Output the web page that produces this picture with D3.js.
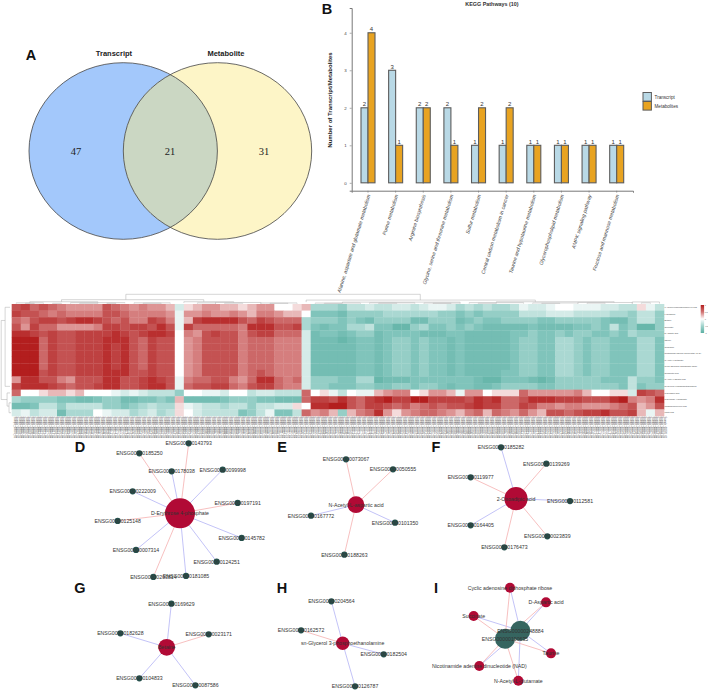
<!DOCTYPE html>
<html>
<head>
<meta charset="utf-8">
<script src="https://cdn.jsdelivr.net/npm/d3@7"></script>
<style>
  html, body { margin: 0; padding: 0; background: #fff; }
  text { font-family: "Liberation Sans", Arial, sans-serif; }
</style>
</head>
<body>
<div id="canvas"></div>
<script>
// A: venn counts
var vennNames = ["Transcript", "Metabolite"];
var vennCounts = [47, 21, 31];

// B: KEGG pathways
var pathways = [
    "Alanine, aspartate and glutamate metabolism", "Purine metabolism", "Arginine biosynthesis",
    "Glycine, serine and threonine metabolism", "Sulfur metabolism", "Central carbon metabolism in cancer",
    "Taurine and hypotaurine metabolism", "Glycerophospholipid metabolism", "AMPK signaling pathway",
    "Fructose and mannose metabolism"
];
var barSeries = ["Transcript", "Metabolites"];
var transcriptCounts = [2, 3, 2, 2, 1, 1, 1, 1, 1, 1];
var metaboliteCounts = [4, 1, 2, 1, 2, 2, 1, 1, 1, 1];

// C: heatmap, one array per metabolite, -9..9
var heatRowNames = [
    "1-Aminocyclopropanecarboxylic acid", "L-Glutamine", "Betaine", "Succinate", "D-Aspartic acid",
    "Taurine", "Guanosine", "Nicotinamide adenine dinucleotide (NAD)", "N-Acetyl-L-glutamate",
    "Cyclic adenosine diphosphate ribose", "Sulfoacetic acid", "N-Acetyl-L-aspartic acid",
    "sn-Glycerol 3-phosphoethanolamine", "2-Oxoadipic acid", "D-Erythrose 4-phosphate",
    "Phosphoenolpyruvic acid", "Lactic acid"
];
var heatValues = [
    [6,7,5,6,5,4,3,3,3,3,6,5,4,3,4,3,3,2,-2,1,2,3,3,2,2,1,2,3,3,0,0,1, 2,-4,-4,-4,-5,-3,-3,-2,-3,-3,-2,-2,-3,-2,-1,-1,-2,-4,-3,-4,-3,-4,-4,-3,-1,-2,-2,-1,0,0,-1,-1,-1,-2,-2,-3,-3,1,-1,-3],
    [7,6,6,5,4,5,4,4,4,4,6,6,5,4,4,4,4,3,-1,3,3,4,3,3,4,3,2,4,4,3,2,2, 0,-6,-6,-6,-7,-5,-5,-5,-5,-4,-4,-4,-4,-4,-4,-5,-5,-6,-5,-6,-5,-5,-5,-5,-3,-3,-3,-2,-2,-2,-3,-3,-3,-3,-4,-4,-5,-3,-3,-5],
    [5,4,6,7,7,6,7,8,8,7,6,5,6,4,4,7,6,4,-1,2,7,8,8,8,8,6,5,7,6,5,5,5, -4,-5,-5,-5,-6,-5,-6,-7,-5,-5,-5,-5,-7,-7,-5,-5,-5,-7,-6,-5,-6,-6,-5,-5,-5,-5,-6,-6,-5,-5,-5,-5,-5,-6,-7,-7,-5,-3,-3,-5],
    [6,3,7,5,5,3,3,3,3,4,7,7,6,7,7,6,8,6,-1,7,5,5,5,5,5,4,8,8,8,6,6,7, -4,-6,-7,-6,-6,-4,-4,-3,-6,-6,-8,-8,-5,-4,-6,-6,-5,-6,-5,-6,-7,-7,-7,-7,-7,-6,-7,-7,-7,-7,-6,-6,-5,-6,-3,-6,-5,-8,-8,-5],
    [8,8,7,6,7,6,6,7,7,7,7,8,7,6,7,8,8,7,0,4,3,6,7,6,6,4,6,7,7,5,5,5, -2,-7,-6,-6,-7,-6,-5,-5,-7,-6,-6,-6,-6,-7,-7,-7,-6,-6,-7,-7,-7,-7,-7,-6,-6,-5,-6,-6,-5,-6,-5,-5,-6,-6,-5,-6,-4,-5,-5,-5],
    [9,9,9,5,7,6,6,7,7,7,8,8,8,6,5,7,6,6,0,3,4,6,6,6,6,4,5,5,5,4,4,4, -2,-7,-7,-7,-8,-7,-6,-6,-7,-6,-5,-5,-6,-5,-6,-6,-7,-6,-7,-7,-7,-7,-7,-6,-5,-5,-6,-6,-4,-4,-5,-6,-5,-5,-6,-6,-6,-4,-4,-6],
    [9,9,9,5,7,6,6,7,7,7,8,7,8,6,5,7,6,6,0,3,4,6,6,6,6,4,5,5,5,4,4,4, -2,-7,-7,-7,-7,-7,-6,-6,-7,-6,-5,-5,-6,-5,-6,-6,-7,-6,-7,-7,-7,-7,-7,-6,-5,-5,-6,-6,-4,-4,-5,-6,-5,-5,-6,-6,-6,-4,-4,-6],
    [9,9,9,5,7,6,6,7,7,7,8,7,8,6,5,7,6,6,0,3,4,6,6,6,6,4,5,5,5,4,4,4, -2,-7,-7,-7,-7,-7,-6,-6,-7,-6,-5,-5,-6,-5,-6,-6,-7,-6,-7,-7,-7,-7,-7,-6,-5,-5,-6,-6,-4,-4,-5,-6,-5,-5,-6,-6,-6,-4,-4,-6],
    [9,9,9,5,7,6,6,7,7,7,8,7,8,6,5,7,6,6,0,3,4,6,6,6,6,4,5,5,5,4,4,4, -2,-7,-7,-7,-7,-7,-6,-6,-7,-6,-5,-5,-6,-5,-6,-6,-7,-6,-7,-7,-7,-7,-7,-6,-5,-5,-6,-6,-4,-4,-5,-6,-5,-5,-6,-6,-6,-4,-4,-6],
    [9,9,9,5,7,6,6,7,7,7,8,7,8,6,5,7,6,6,0,3,4,6,6,6,6,4,5,5,5,4,4,4, -2,-7,-7,-7,-7,-7,-6,-6,-7,-6,-5,-5,-6,-5,-6,-6,-7,-6,-7,-7,-7,-7,-7,-6,-5,-5,-6,-6,-4,-4,-5,-6,-5,-5,-6,-6,-6,-4,-4,-6],
    [9,9,9,6,7,6,6,7,7,7,8,8,8,6,6,7,6,6,0,3,4,6,6,6,6,4,5,6,5,4,4,4, -2,-7,-7,-7,-7,-7,-6,-6,-7,-6,-5,-5,-6,-5,-6,-6,-7,-6,-7,-7,-7,-7,-6,-6,-5,-5,-6,-6,-4,-4,-5,-6,-5,-5,-6,-6,-6,-4,-4,-6],
    [3,8,8,6,6,4,3,6,6,6,8,8,6,6,7,8,7,6,-1,4,5,5,6,6,4,3,5,8,8,5,4,5, -2,-5,-5,-5,-6,-6,-4,-4,-8,-7,-7,-7,-6,-6,-6,-6,-6,-6,-6,-7,-8,-8,-6,-6,-6,-7,-8,-7,-5,-5,-5,-5,-5,-6,-6,-6,-3,-5,-5,-6],
    [7,8,8,8,7,6,5,6,6,7,8,8,6,6,7,8,8,6,-1,5,6,6,7,7,5,4,6,7,7,5,4,4, -2,-5,-5,-6,-6,-6,-5,-5,-6,-6,-5,-5,-6,-5,-5,-6,-7,-6,-6,-7,-7,-6,-5,-5,-5,-5,-6,-6,-5,-5,-5,-5,-5,-5,-5,-6,-3,-6,-5,-5],
    [5,0,0,1,2,2,1,2,0,0,0,-1,-2,-1,-2,-3,-3,-3,-5,0,0,-1,-1,-2,0,0,-3,-2,-2,-3,-3,-3, 5,0,1,-1,-3,0,-1,-1,2,3,4,4,0,1,3,3,2,-1,3,3,0,1,1,1,5,3,3,3,3,3,4,2,0,0,1,1,-2,7,6,5],
    [-4,-5,-5,-5,-5,-6,-6,-7,-7,-6,-5,-5,-7,-7,-6,-6,-5,-6,2,-7,-7,-7,-7,-6,-5,-5,-5,-6,-6,-7,-7,-7, 5,7,7,6,8,6,5,7,8,9,7,7,9,9,7,7,7,7,6,8,7,8,5,5,6,8,8,8,7,7,7,6,6,6,8,9,4,3,4,8],
    [-7,-7,-6,-3,-3,-5,-3,-3,-3,-3,-5,-5,-6,-5,-4,-3,-4,-4,1,-1,-2,-3,-3,-4,-3,-3,-5,-3,-3,-2,-2,1, 0,8,8,9,9,6,5,7,7,6,5,6,4,5,6,5,6,6,7,8,7,7,5,5,7,6,4,4,3,4,4,3,3,3,4,5,6,2,3,6],
    [-2,-1,-3,-2,-2,-7,-4,-4,-4,0,-1,-2,-2,-4,-3,-2,-4,-3,1,0,-2,-3,-3,-3,-3,-6,-5,-3,-1,-6,-6,-3, 5,3,4,2,-5,2,4,5,8,3,1,3,4,5,5,4,3,2,4,5,2,5,4,3,5,3,2,6,6,5,6,7,7,8,6,6,7,2,-1,2]
];
var legendTicks = [1, 0.5, 0, -0.5, -1];

// dendrograms: [left, right, height, left child height, right child height]
var colMerges = [
    [12.1, 44.6, 1, 0.42, 0.38], [5, 20.7, 0.42, 0.2, 0.2], [32, 57.3, 0.38, 0.16, 0.2],
    [1.5, 9, 0.2, 0.08, 0.1], [18.5, 24, 0.2, 0.08, 0.12], [36, 49, 0.16, 0.06, 0.08], [53, 66, 0.2, 0.1, 0.12],
    [0, 3, 0.08, 0, 0], [6, 12, 0.1, 0, 0.04], [13, 17, 0.08, 0, 0], [20, 22, 0.08, 0, 0], [22, 27, 0.12, 0, 0],
    [27, 31, 0.07, 0, 0], [33, 38, 0.06, 0, 0], [39, 44, 0.08, 0, 0], [45, 49, 0.06, 0, 0], [50, 56, 0.1, 0, 0],
    [57, 62, 0.07, 0, 0], [62, 68, 0.12, 0, 0], [68, 71, 0.18, 0, 0],
    [1, 2, 0.03, 0, 0], [4, 5, 0.03, 0, 0], [7, 9, 0.04, 0, 0], [10, 11, 0.03, 0, 0], [14, 16, 0.04, 0, 0],
    [23, 25, 0.04, 0, 0], [28, 30, 0.03, 0, 0], [34, 36, 0.03, 0, 0], [40, 42, 0.04, 0, 0], [46, 48, 0.03, 0, 0],
    [51, 53, 0.04, 0, 0], [58, 60, 0.03, 0, 0], [63, 65, 0.05, 0, 0], [69, 70, 0.08, 0, 0]
];
var rowMerges = [
    [2.5, 14.5, 1, 0.6, 0.4], [0.5, 12.5, 0.6, 0.1, 0.1], [13.5, 15.5, 0.4, 0.1, 0.2], [15, 16.5, 0.2, 0, 0]
];

// D-I: networks, [name, edge type, layout x, layout y] measured from the hub
var netD = [
    ["ENSG00000143793", 0, 26, -210], ["ENSG00000185250", 0, -122, -180], ["ENSG00000178038", 1, -25, -126],
    ["ENSG00000099998", 1, 128, -131], ["ENSG00000222009", 1, -142, -66], ["ENSG00000197191", 0, 173, -31],
    ["ENSG00000125148", 0, -187, 23], ["ENSG00000145782", 1, 185, 74], ["ENSG00000007314", 1, -132, 110],
    ["ENSG00000124251", 1, 110, 145], ["ENSG00000203814", 0, -80, 191], ["ENSG00000181085", 1, 18, 188]
];
var netE = [
    ["ENSG00000073067", 0, -30, -136], ["ENSG00000050555", 0, 111, -106], ["ENSG00000167772", 1, -135, 33],
    ["ENSG00000101350", 1, 117, 54], ["ENSG00000188263", 0, -35, 150]
];
var netF = [
    ["ENSG00000185282", 1, -45, -154], ["ENSG00000139269", 0, 91, -105], ["ENSG00000119977", 0, -136, -64],
    ["ENSG00000112581", 1, 162, 7], ["ENSG00000164405", 1, -136, 80], ["ENSG00000023839", 0, 94, 113],
    ["ENSG00000176473", 0, -35, 146]
];
var netG = [
    ["ENSG00000169629", 1, 14, -131], ["ENSG00000182628", 1, -139, -42], ["ENSG00000023171", 0, 126, -39],
    ["ENSG00000104833", 1, -82, 93], ["ENSG00000087586", 1, 86, 114]
];
var netH = [
    ["ENSG00000204564", 1, -34, -126], ["ENSG00000162572", 0, -125, -39], ["ENSG00000182504", 1, 123, 33],
    ["ENSG00000126787", 1, 37, 129]
];
var netIHubs = [["ENSG00000248884", 46, -24], ["ENSG00000190635", 0, 0]];
var netI = [
    ["Cyclic adenosine diphosphate ribose", 15, -153], ["D-Aspartic acid", 123, -109], ["Succinate", -94, -68],
    ["Taurine", 138, 44], ["Nicotinamide adenine dinucleotide (NAD)", -77, 82], ["N-Acetyl-L-glutamate", 40, 126]
];

var svg = d3.select("#canvas").append("svg")
    .attr("width", 708)
    .attr("height", 691)
    .style("display", "block");

var letters = [["A", 31, 60], ["B", 327, 14], ["D", 80, 452], ["E", 282, 452], ["F", 436, 452], ["G", 80, 593], ["H", 282, 593], ["I", 436, 593]];
letters.forEach(function (d) {
    svg.append("text").attr("x", d[1]).attr("y", d[2]).attr("text-anchor", "middle")
        .style("font-size", "14.5px").style("font-weight", "bold").style("fill", "#111").text(d[0]);
});

// ---- A venn
var venn = svg.append("g");
var vennY = 151, vennRx = 94.2, vennRy = 88.3, vennX = [123.2, 217.5];
svg.append("clipPath").attr("id", "vennClip").append("ellipse")
    .attr("cx", vennX[1]).attr("cy", vennY).attr("rx", vennRx).attr("ry", vennRy);
venn.append("ellipse").attr("cx", vennX[0]).attr("cy", vennY).attr("rx", vennRx).attr("ry", vennRy).attr("fill", "#a3c8fb");
venn.append("ellipse").attr("cx", vennX[1]).attr("cy", vennY).attr("rx", vennRx).attr("ry", vennRy).attr("fill", "#fdf5c7");
venn.append("ellipse").attr("cx", vennX[0]).attr("cy", vennY).attr("rx", vennRx).attr("ry", vennRy)
    .attr("fill", "#cbd7c3").attr("clip-path", "url(#vennClip)");
vennX.forEach(function (cx) {
    venn.append("ellipse").attr("cx", cx).attr("cy", vennY).attr("rx", vennRx).attr("ry", vennRy)
        .attr("fill", "none").attr("stroke", "#444").attr("stroke-width", 0.8);
});
var vennTextX = [76, 170, 264];
vennCounts.forEach(function (d, i) {
    venn.append("text").attr("x", vennTextX[i]).attr("y", 155).attr("text-anchor", "middle")
        .style("font-family", "'Liberation Serif', serif").style("font-size", "10.5px").style("fill", "#222").text(d);
});
[114, 226].forEach(function (x, i) {
    venn.append("text").attr("x", x).attr("y", 56).attr("text-anchor", "middle")
        .style("font-size", "7.5px").style("font-weight", "bold").style("fill", "#222").text(vennNames[i]);
});

// ---- B bars
var bars = svg.append("g");
var x0 = d3.scaleBand().domain(pathways).range([351.7, 633]).paddingInner(0).paddingOuter(0.09);
var x1 = d3.scaleBand().domain(barSeries).range([x0.bandwidth() / 2 - 7, x0.bandwidth() / 2 + 7]);
var y = d3.scaleLinear().domain([-0.21, 4.66]).range([190.7, 8]);
var barColor = d3.scaleOrdinal().domain(barSeries).range(["#b9d9e6", "#e8a321"]);

var barData = [];
pathways.forEach(function (p, i) {
    barData.push({ pathway: p, series: barSeries[0], value: transcriptCounts[i] });
    barData.push({ pathway: p, series: barSeries[1], value: metaboliteCounts[i] });
});
bars.selectAll("rect").data(barData).enter().append("rect")
    .attr("x", function (d) { return x0(d.pathway) + x1(d.series); })
    .attr("y", function (d) { return y(d.value); })
    .attr("width", x1.bandwidth())
    .attr("height", function (d) { return y(0) - y(d.value); })
    .attr("fill", function (d) { return barColor(d.series); })
    .attr("stroke", "#5c5c5c")
    .attr("stroke-width", 1.1);
bars.selectAll(".val").data(barData).enter().append("text")
    .attr("class", "val")
    .attr("x", function (d) { return x0(d.pathway) + x1(d.series) + x1.bandwidth() / 2; })
    .attr("y", function (d) { return y(d.value) - 1.5; })
    .attr("text-anchor", "middle")
    .style("font-size", "6px").style("fill", "#333")
    .text(function (d) { return d.value; });

var yAxis = bars.append("g").attr("transform", "translate(351.7,0)")
    .call(d3.axisLeft(y).tickValues([0, 1, 2, 3, 4]).tickSize(2).tickFormat(d3.format("d")));
var xAxis = bars.append("g").attr("transform", "translate(0,190.7)")
    .call(d3.axisBottom(x0).tickSize(2));
[yAxis, xAxis].forEach(function (a) {
    a.selectAll(".domain").attr("stroke", "#777").attr("stroke-width", 1);
    a.selectAll(".tick line").attr("stroke", "#777").attr("stroke-width", 0.6);
});
yAxis.selectAll("text").style("font-size", "4.4px").style("font-family", "'Liberation Sans'").style("fill", "#444");
xAxis.selectAll("text")
    .attr("text-anchor", "end")
    .attr("dx", 0).attr("dy", 0).attr("y", 0)
    .attr("transform", "translate(2.5,4.5) rotate(-73)")
    .style("font-size", "5.1px").style("font-style", "italic").style("font-family", "'Liberation Sans'").style("fill", "#444");

svg.append("text").attr("x", 492).attr("y", 5.5).attr("text-anchor", "middle")
    .style("font-size", "5.4px").style("font-weight", "bold").style("fill", "#333").text("KEGG Pathways (10)");
svg.append("text").attr("transform", "translate(332.3,100) rotate(-90)").attr("text-anchor", "middle")
    .style("font-size", "6px").style("font-weight", "bold").style("fill", "#222").text("Number of Transcript/Metabolites");

barSeries.forEach(function (s, i) {
    svg.append("rect").attr("x", 643).attr("y", 92.5 + i * 9).attr("width", 8.4).attr("height", 8.6)
        .attr("fill", barColor(s)).attr("stroke", "#5c5c5c").attr("stroke-width", 1);
    svg.append("text").attr("x", 654.5).attr("y", 98.8 + i * 9)
        .style("font-size", "4.6px").style("fill", "#333").text(s);
});

// ---- C heatmap
var heat = svg.append("g");
var colIndex = d3.range(heatValues[0].length);
var heatX = d3.scaleBand().domain(colIndex).range([11.7, 664]);
var heatY = d3.scaleBand().domain(heatRowNames).range([304, 416]);
var heatColor = d3.scaleLinear().domain([-9, -6, 0, 3, 6, 9])
    .range(["#5cb0a3", "#80c4bb", "#ffffff", "#dd9494", "#c45252", "#b31e1e"]);

heatValues.forEach(function (row, r) {
    heat.append("g").selectAll("rect").data(row).enter().append("rect")
        .attr("x", function (d, i) { return heatX(i); })
        .attr("y", heatY(heatRowNames[r]))
        .attr("width", heatX.bandwidth() + 0.3)
        .attr("height", heatY.bandwidth() + 0.3)
        .attr("fill", function (d) { return heatColor(d); });
});

heat.append("g").selectAll("text").data(heatRowNames).enter().append("text")
    .attr("x", 664.5)
    .attr("y", function (d) { return heatY(d) + heatY.bandwidth() / 2 + 0.7; })
    .style("font-size", "2px").style("fill", "#444")
    .text(function (d) { return d; });

// sample labels under the heatmap, too small to read in the original
var sampleNames = d3.range(1, 271).map(function (i) { return "Sample_00" + d3.format("03")(i) + "_01"; });
var sampleX = d3.scaleBand().domain(sampleNames).range([11.7, 664]);
heat.append("g").selectAll("text").data(sampleNames).enter().append("text")
    .attr("transform", function (d) { return "translate(" + (sampleX(d) + sampleX.bandwidth() / 2 + 0.9) + ",416.5) rotate(90)"; })
    .style("font-size", "2.6px").style("fill", "#666")
    .text(function (d) { return d; });

var colH = d3.scaleLinear().domain([0, 1]).range([303.6, 294.3]);
var rowW = d3.scaleLinear().domain([0, 1]).range([11, 1.2]);
function colPos(i) { return heatX(0) + (i + 0.5) * heatX.step(); }
function rowPos(i) { return heatY.range()[0] + i * heatY.step(); }
heat.append("g").selectAll("path").data(colMerges).enter().append("path")
    .attr("d", function (d) {
        return "M" + colPos(d[0]) + "," + colH(d[3]) + "V" + colH(d[2]) + "H" + colPos(d[1]) + "V" + colH(d[4]);
    })
    .attr("fill", "none").attr("stroke", "#aaa").attr("stroke-width", 0.5);
heat.append("g").selectAll("path").data(rowMerges).enter().append("path")
    .attr("d", function (d) {
        return "M" + rowW(d[3]) + "," + rowPos(d[0]) + "H" + rowW(d[2]) + "V" + rowPos(d[1]) + "H" + rowW(d[4]);
    })
    .attr("fill", "none").attr("stroke", "#aaa").attr("stroke-width", 0.5);

// colour key
var keyY = d3.scaleLinear().domain([1, -1]).range([305, 333]);
var defs = svg.append("defs");
var grad = defs.append("linearGradient").attr("id", "keyGrad").attr("x1", 0).attr("x2", 0).attr("y1", 0).attr("y2", 1);
legendTicks.forEach(function (t) {
    grad.append("stop").attr("offset", (1 - t) / 2).attr("stop-color", heatColor(t * 9));
});
heat.append("rect").attr("x", 700.7).attr("y", keyY(1)).attr("width", 3.4).attr("height", keyY(-1) - keyY(1)).attr("fill", "url(#keyGrad)");
heat.append("g").selectAll("text").data(legendTicks).enter().append("text")
    .attr("x", 704.8).attr("y", function (d) { return keyY(d) + 0.8; })
    .style("font-size", "2.2px").style("fill", "#555")
    .text(function (d) { return d; });

// ---- D-I networks
var edgeColor = d3.scaleOrdinal().domain([0, 1]).range(["#f6b9b9", "#bcbcf6"]);
var layoutScale = d3.scaleLinear().domain([0, 3]).range([0, 1]);

function drawStar(nodes, hubName, hubX, hubY, hubR) {
    var g = svg.append("g").attr("transform", "translate(" + hubX + "," + hubY + ")");
    g.selectAll("line").data(nodes).enter().append("line")
        .attr("x1", 0).attr("y1", 0)
        .attr("x2", function (d) { return layoutScale(d[2]); })
        .attr("y2", function (d) { return layoutScale(d[3]); })
        .attr("stroke", function (d) { return edgeColor(d[1]); })
        .attr("stroke-width", 0.9);
    g.selectAll("circle").data(nodes).enter().append("circle")
        .attr("cx", function (d) { return layoutScale(d[2]); })
        .attr("cy", function (d) { return layoutScale(d[3]); })
        .attr("r", 3.1)
        .attr("fill", "#26504c");
    g.append("circle").attr("r", hubR).attr("fill", "#b10a35");
    g.selectAll("text").data(nodes).enter().append("text")
        .attr("x", function (d) { return layoutScale(d[2]); })
        .attr("y", function (d) { return layoutScale(d[3]) + 1.9; })
        .attr("text-anchor", "middle")
        .style("font-size", "5.2px").style("fill", "#333")
        .text(function (d) { return d[0]; });
    g.append("text").attr("y", 1.9).attr("text-anchor", "middle")
        .style("font-size", "5.2px").style("fill", "#333").text(hubName);
}

drawStar(netD, "D-Erythrose 4-phosphate", 180, 513.3, 15);
drawStar(netE, "N-Acetyl-L-aspartic acid", 356, 504.7, 8.4);
drawStar(netF, "2-Oxoadipic acid", 516, 498.7, 11.6);
drawStar(netG, "Betaine", 166.7, 647.3, 8.4);
drawStar(netH, "sn-Glycerol 3-phosphoethanolamine", 342.7, 643.3, 6.7);

// I has two gene hubs joined to every metabolite
var gI = svg.append("g").attr("transform", "translate(505,638.7)");
netIHubs.forEach(function (hub, h) {
    gI.append("g").selectAll("line").data(netI).enter().append("line")
        .attr("x1", layoutScale(hub[1])).attr("y1", layoutScale(hub[2]))
        .attr("x2", function (d) { return layoutScale(d[1]); })
        .attr("y2", function (d) { return layoutScale(d[2]); })
        .attr("stroke", edgeColor(h === 0 ? 1 : 0))
        .attr("stroke-width", 0.9);
});
gI.append("g").selectAll("circle").data(netIHubs).enter().append("circle")
    .attr("cx", function (d) { return layoutScale(d[1]); })
    .attr("cy", function (d) { return layoutScale(d[2]); })
    .attr("r", 10)
    .attr("fill", "#366560");
gI.append("g").selectAll("circle").data(netI).enter().append("circle")
    .attr("cx", function (d) { return layoutScale(d[1]); })
    .attr("cy", function (d) { return layoutScale(d[2]); })
    .attr("r", 5)
    .attr("fill", "#b10a35");
gI.append("g").selectAll("text").data(netIHubs.concat(netI)).enter().append("text")
    .attr("x", function (d) { return layoutScale(d[1]); })
    .attr("y", function (d) { return layoutScale(d[2]) + 1.9; })
    .attr("text-anchor", "middle")
    .style("font-size", "5.2px").style("fill", "#333")
    .text(function (d) { return d[0]; });
</script>
</body>
</html>
